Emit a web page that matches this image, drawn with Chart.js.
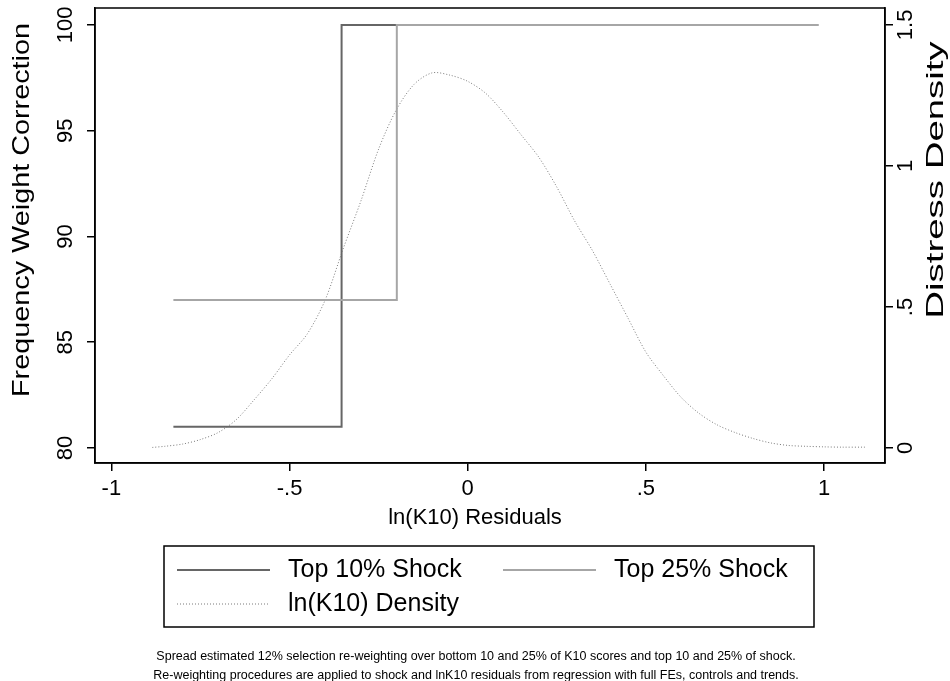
<!DOCTYPE html>
<html>
<head>
<meta charset="utf-8">
<script src="https://cdn.jsdelivr.net/npm/chart.js@4.4.1/dist/chart.umd.min.js"></script>
<style>
  html, body { margin: 0; padding: 0; background: #fff; }
  #wrap { width: 950px; height: 681px; }
</style>
</head>
<body>
<div id="wrap"><canvas id="chart" width="950" height="681"></canvas></div>
<script>
// данные
const shock10X = [-0.826, -0.354, 0.984];
const shock10Y = [81, 100, 100];
const shock25X = [-0.826, -0.199, 0.984];
const shock25Y = [87, 100, 100];

const densX = [-0.885, -0.85, -0.80, -0.75, -0.70, -0.65, -0.60, -0.55, -0.50, -0.45,
  -0.40, -0.35, -0.30, -0.25, -0.20, -0.15, -0.10, -0.05, 0.00, 0.05,
  0.10, 0.15, 0.20, 0.25, 0.30, 0.35, 0.40, 0.45, 0.50, 0.55,
  0.60, 0.65, 0.70, 0.75, 0.80, 0.85, 0.90, 0.95, 1.00, 1.05, 1.115];
const densY = [0.002, 0.006, 0.014, 0.030, 0.055, 0.100, 0.170, 0.245, 0.330, 0.405,
  0.525, 0.705, 0.875, 1.060, 1.200, 1.290, 1.330, 1.322, 1.300, 1.258,
  1.190, 1.110, 1.030, 0.925, 0.805, 0.700, 0.580, 0.460, 0.340, 0.255,
  0.178, 0.122, 0.082, 0.055, 0.034, 0.018, 0.009, 0.006, 0.004, 0.003, 0.003];

const xTicks = [-1, -0.5, 0, 0.5, 1];
const xTickLabels = ['-1', '-.5', '0', '.5', '1'];
const leftTicks = [80, 85, 90, 95, 100];
const leftTickLabels = ['80', '85', '90', '95', '100'];
const rightTicks = [0, 0.5, 1, 1.5];
const rightTickLabels = ['0', '.5', '1', '1.5'];

const legendLabels = ['Top 10% Shock', 'Top 25% Shock', 'ln(K10) Density'];
const notes = [
  'Spread estimated 12% selection re-weighting over bottom 10 and 25% of K10 scores and top 10 and 25% of shock.',
  'Re-weighting procedures are applied to shock and lnK10 residuals from regression with full FEs, controls and trends.'
];

const FONT = '"Liberation Sans", Arial, Helvetica, sans-serif';
const DARK = '#666666';
const LIGHT = '#a6a6a6';
const DOT = '#7a7a7a';

function pts(xs, ys) {
  return xs.map((x, i) => ({ x: x, y: ys[i] }));
}

function setTicks(values) {
  return scale => { scale.ticks = values.map(v => ({ value: v })); };
}

const axisGrid = {
  display: true, drawOnChartArea: false, drawTicks: true,
  tickLength: 8, color: '#000', lineWidth: 1.5
};
const axisBorder = { display: true, color: '#000', width: 1.5 };

// текст осей, рамка, легенда и подписи
const decor = {
  id: 'decor',
  afterDraw(chart) {
    const ctx = chart.ctx;
    const a = chart.chartArea;
    const sx = chart.scales.x, sl = chart.scales.yL, sr = chart.scales.yR;
    ctx.save();
    ctx.fillStyle = '#000';
    ctx.strokeStyle = '#000';
    ctx.lineWidth = 1.5;
    ctx.strokeRect(a.left, a.top, a.right - a.left, a.bottom - a.top);

    // вертикальный текст, stretch - растяжение вдоль строки
    function vText(t, x, y, size, stretch) {
      ctx.save();
      ctx.translate(x, y);
      ctx.rotate(-Math.PI / 2);
      ctx.scale(stretch || 1, 1);
      ctx.font = size + 'px ' + FONT;
      ctx.textAlign = 'center';
      ctx.textBaseline = 'middle';
      ctx.fillText(t, 0, 0);
      ctx.restore();
    }

    leftTicks.forEach((v, i) => vText(leftTickLabels[i], 66, sl.getPixelForValue(v), 22));
    rightTicks.forEach((v, i) => vText(rightTickLabels[i], 906, sr.getPixelForValue(v), 22));
    vText('Frequency Weight Correction', 22, 210, 24, 1.2);
    vText('Distress Density', 936, 180, 24, 1.6);

    ctx.font = '22px ' + FONT;
    ctx.textAlign = 'center';
    ctx.textBaseline = 'middle';
    xTicks.forEach((v, i) => ctx.fillText(xTickLabels[i], sx.getPixelForValue(v), 489));
    ctx.fillText('ln(K10) Residuals', 475, 518);

    // легенда
    ctx.lineWidth = 1.5;
    ctx.strokeRect(164, 546, 650, 81);
    const ds = chart.data.datasets;
    const items = [[177, 570], [503, 570], [177, 604]];
    items.forEach((p, i) => {
      ctx.save();
      ctx.strokeStyle = ds[i].borderColor;
      ctx.lineWidth = ds[i].borderWidth;
      ctx.setLineDash(ds[i].borderDash || []);
      ctx.beginPath();
      ctx.moveTo(p[0], p[1]);
      ctx.lineTo(p[0] + 93, p[1]);
      ctx.stroke();
      ctx.restore();
      ctx.font = '25px ' + FONT;
      ctx.textAlign = 'left';
      ctx.fillText(legendLabels[i], p[0] + 111, p[1]);
    });

    ctx.font = '12.5px ' + FONT;
    ctx.textAlign = 'center';
    ctx.fillText(notes[0], 476, 657);
    ctx.fillText(notes[1], 476, 676);
    ctx.restore();
  }
};

new Chart(document.getElementById('chart'), {
  type: 'line',
  data: {
    datasets: [
      {
        label: legendLabels[0], data: pts(shock10X, shock10Y), yAxisID: 'yL',
        borderColor: DARK, borderWidth: 2, stepped: 'before', pointRadius: 0, order: 2
      },
      {
        label: legendLabels[1], data: pts(shock25X, shock25Y), yAxisID: 'yL',
        borderColor: LIGHT, borderWidth: 2, stepped: 'before', pointRadius: 0, order: 1
      },
      {
        label: legendLabels[2], data: pts(densX, densY), yAxisID: 'yR',
        borderColor: DOT, borderWidth: 1, borderDash: [1, 2], tension: 0.3,
        pointRadius: 0, order: 3
      }
    ]
  },
  options: {
    responsive: false,
    animation: false,
    devicePixelRatio: 1,
    layout: { padding: { top: 8, left: 0, right: 0, bottom: 0 } },
    plugins: { legend: { display: false }, tooltip: { enabled: false } },
    scales: {
      x: {
        type: 'linear', position: 'bottom', min: -1.046, max: 1.171,
        afterBuildTicks: setTicks(xTicks),
        afterFit: s => { s.height = 218; },
        ticks: { display: false }, grid: axisGrid, border: axisBorder
      },
      yL: {
        type: 'linear', position: 'left', min: 79.29, max: 100.8,
        afterBuildTicks: setTicks(leftTicks),
        afterFit: s => { s.width = 95; },
        ticks: { display: false }, grid: axisGrid, border: axisBorder
      },
      yR: {
        type: 'linear', position: 'right', min: -0.0532, max: 1.560,
        afterBuildTicks: setTicks(rightTicks),
        afterFit: s => { s.width = 65; },
        ticks: { display: false }, grid: axisGrid, border: axisBorder
      }
    }
  },
  plugins: [decor]
});
</script>
</body>
</html>
